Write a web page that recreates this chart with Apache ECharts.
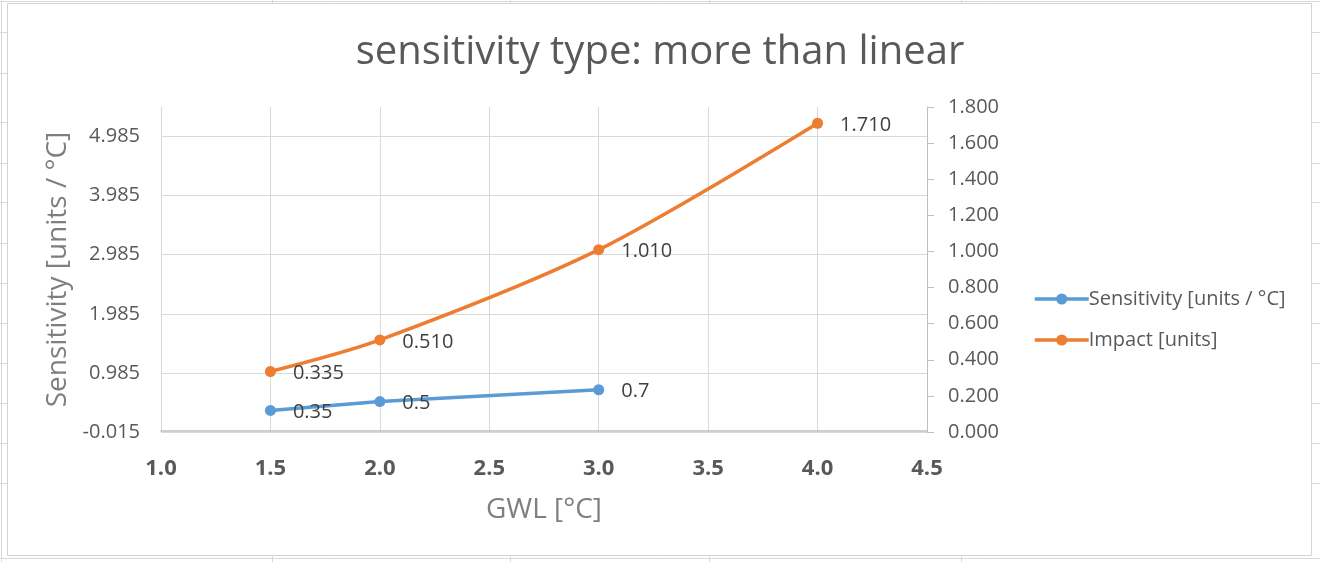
<!DOCTYPE html>
<html>
<head>
<meta charset="utf-8">
<script src="https://cdn.jsdelivr.net/npm/echarts@6/dist/echarts.min.js"></script>
<style>
    html, body { margin: 0; padding: 0; background: #fff; }
    #main { width: 1320px; height: 562px; }
</style>
</head>
<body>
<div id="main"></div>
<script>
// values
var gwl = [1.5, 2.0, 3.0, 4.0];
var sensitivity = [0.35, 0.5, 0.7];
var impact = [0.335, 0.51, 1.01, 1.71];
var leftTicks = [-0.015, 0.985, 1.985, 2.985, 3.985, 4.985];
var seriesNames = ['Sensitivity [units / °C]', 'Impact [units]'];

// spreadsheet cell lines round the chart (decoration only)
var rowLines = [32, 73, 122, 163, 202, 243, 283, 323, 363, 403, 443, 483];
var colLines = [272, 510, 709, 961];

var chart = {
    init() {
        chart.draw()
    },
    pairs(xs, ys) {
        var out = [];
        ys.forEach((v, i) => {
            out.push([xs[i], v])
        });
        return out
    },
    deco() {
        var g = [];
        var ln = { stroke: '#d9d9d9', lineWidth: 1 };
        g.push({ type: 'rect', shape: { x: 7.5, y: 3.5, width: 1304, height: 552 }, style: { fill: null, stroke: '#d4d4d4', lineWidth: 1 }, silent: true });
        g.push({ type: 'line', shape: { x1: 0, y1: 1.5, x2: 1320, y2: 1.5 }, style: ln, silent: true });
        g.push({ type: 'line', shape: { x1: 0, y1: 558.5, x2: 1320, y2: 558.5 }, style: ln, silent: true });
        g.push({ type: 'line', shape: { x1: 1.5, y1: 0, x2: 1.5, y2: 562 }, style: ln, silent: true });
        rowLines.forEach(y => {
            g.push({ type: 'line', shape: { x1: 0, y1: y + 0.5, x2: 7, y2: y + 0.5 }, style: ln, silent: true });
            g.push({ type: 'line', shape: { x1: 1312, y1: y + 0.5, x2: 1320, y2: y + 0.5 }, style: ln, silent: true });
        });
        colLines.forEach(x => {
            g.push({ type: 'line', shape: { x1: x + 0.5, y1: 0, x2: x + 0.5, y2: 3 }, style: ln, silent: true });
            g.push({ type: 'line', shape: { x1: x + 0.5, y1: 556, x2: x + 0.5, y2: 562 }, style: ln, silent: true });
        });
        return g
    },
    draw() {
        var myChart = echarts.init(document.getElementById('main'));
        var font = '"Open Sans", "Noto Sans", sans-serif';
        var option = {
            backgroundColor: '#ffffff',
            textStyle: { fontFamily: font },
            animation: false,
            graphic: chart.deco(),
            title: {
                text: 'sensitivity type: more than linear',
                left: 'center',
                top: 28,
                textStyle: {
                    fontFamily: font,
                    fontSize: 40,
                    fontWeight: 'normal',
                    color: '#595959'
                }
            },
            legend: {
                orient: 'vertical',
                left: 1028,
                top: 284,
                itemWidth: 54,
                itemHeight: 14,
                itemGap: 21,
                lineStyle: { width: 3.5 },
                textStyle: {
                    fontFamily: font,
                    fontSize: 20,
                    color: '#595959',
                    padding: [0, 0, 0, -5]
                },
                data: seriesNames
            },
            grid: {
                left: 161,
                right: 393,
                top: 107,
                bottom: 130
            },
            xAxis: {
                type: 'value',
                min: 1,
                max: 4.5,
                interval: 0.5,
                name: 'GWL [°C]',
                nameLocation: 'middle',
                nameGap: 64,
                nameTextStyle: {
                    fontFamily: font,
                    fontSize: 28,
                    color: '#7f7f7f'
                },
                axisLine: { lineStyle: { color: '#bfbfbf', width: 1.5 } },
                axisTick: { show: false },
                splitLine: { show: true, lineStyle: { color: '#d9d9d9' } },
                axisLabel: {
                    margin: 26,
                    fontFamily: font,
                    fontSize: 22,
                    fontWeight: 'bold',
                    color: '#595959',
                    formatter: v => v.toFixed(1)
                }
            },
            yAxis: [{
                type: 'value',
                min: -0.015,
                max: 5.485,
                name: seriesNames[0],
                nameLocation: 'middle',
                nameGap: 86,
                nameTextStyle: {
                    fontFamily: font,
                    fontSize: 28,
                    color: '#7f7f7f'
                },
                axisLine: { show: true, lineStyle: { color: '#d9d9d9' } },
                axisTick: { show: false, customValues: leftTicks },
                splitLine: { show: true, lineStyle: { color: '#d9d9d9' } },
                axisLabel: {
                    customValues: leftTicks,
                    margin: 21,
                    fontFamily: font,
                    fontSize: 20,
                    color: '#595959',
                    formatter: v => v.toFixed(3)
                }
            }, {
                type: 'value',
                min: 0,
                max: 1.8,
                interval: 0.2,
                position: 'right',
                axisLine: { show: true, lineStyle: { color: '#bfbfbf' } },
                axisTick: { show: true, length: 7, lineStyle: { color: '#bfbfbf' } },
                splitLine: { show: false },
                axisLabel: {
                    margin: 21,
                    fontFamily: font,
                    fontSize: 20,
                    color: '#595959',
                    formatter: v => v.toFixed(3)
                }
            }],
            series: [{
                name: seriesNames[0],
                type: 'line',
                yAxisIndex: 0,
                data: chart.pairs(gwl, sensitivity),
                symbol: 'circle',
                symbolSize: 11,
                itemStyle: { color: '#5b9bd5' },
                lineStyle: { color: '#5b9bd5', width: 3.5 },
                label: {
                    show: true,
                    position: 'right',
                    distance: 17,
                    offset: [0, 2],
                    fontFamily: font,
                    fontSize: 20,
                    color: '#404040',
                    formatter: p => String(p.value[1])
                }
            }, {
                name: seriesNames[1],
                type: 'line',
                yAxisIndex: 1,
                smooth: 0.3,
                data: chart.pairs(gwl, impact),
                symbol: 'circle',
                symbolSize: 11,
                itemStyle: { color: '#ed7d31' },
                lineStyle: { color: '#ed7d31', width: 3.5 },
                label: {
                    show: true,
                    position: 'right',
                    distance: 17,
                    offset: [0, 2],
                    fontFamily: font,
                    fontSize: 20,
                    color: '#404040',
                    formatter: p => p.value[1].toFixed(3)
                }
            }]
        };
        myChart.setOption(option);
    }
}
chart.init()
</script>
</body>
</html>
